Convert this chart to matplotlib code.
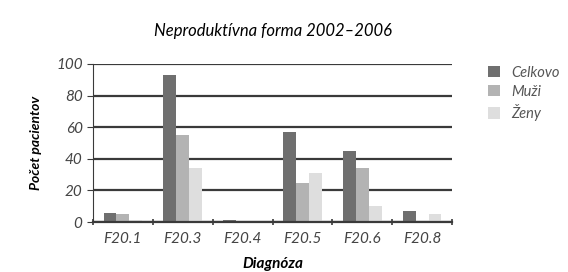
import matplotlib
matplotlib.use("Agg")
import matplotlib.pyplot as plt
import numpy as np

categories = ["F20.1", "F20.3", "F20.4", "F20.5", "F20.6", "F20.8"]
celkovo = [6, 93, 1, 57, 45, 7]
muzi = [5, 55, 0, 25, 34, 0]
zeny = [1, 34, 0, 31, 10, 5]
series_names = ["Celkovo", "Muži", "Ženy"]
colors = ["#6f6f6f", "#b3b3b3", "#dedede"]

plt.rcParams['font.family'] = ['Lato', 'DejaVu Sans']

fig = plt.figure(figsize=(5.68, 2.72), dpi=100)
ax = fig.add_axes([93/568, 1-222/272, (452-93)/568, (222-64)/272])

x = np.arange(len(categories))
w = 0.215
for i, (vals, name, c) in enumerate(zip([celkovo, muzi, zeny], series_names, colors)):
    ax.bar(x + (i-1)*w, vals, w, color=c, label=name, zorder=2)

ax.set_xlim(-0.5, len(categories)-0.5)
ax.set_ylim(0, 100)
ax.set_yticks(range(0, 101, 20))
ax.yaxis.grid(True, color="#3a3a3a", linewidth=1.6, zorder=0)
ax.set_axisbelow(True)
for s in ["top", "right"]:
    ax.spines[s].set_visible(False)
ax.spines["left"].set_color("#3a3a3a")
ax.spines["bottom"].set_color("#3a3a3a")
ax.spines["bottom"].set_linewidth(1.6)
ax.set_xticks(x)
ax.set_xticklabels(categories, style="italic", fontsize=11, color="#444444")
ax.set_xticks(np.arange(-0.5, len(categories), 1), minor=True)
ax.tick_params(axis="x", which="major", length=0, pad=7)
ax.tick_params(axis="x", which="minor", length=4, direction="inout", color="#3a3a3a", width=1.2)
ax.tick_params(axis="y", length=4, direction="out", color="#3a3a3a", labelsize=11, labelcolor="#444444")
for lbl in ax.get_yticklabels():
    lbl.set_style("italic")

ax.set_title("Neproduktívna forma 2002–2006", style="italic", fontsize=12, pad=20)
ax.set_ylabel("Počet pacientov", style="italic", fontweight="bold", fontsize=10, labelpad=10)
ax.set_xlabel("Diagnóza", style="italic", fontweight="bold", fontsize=11, labelpad=8)

leg = ax.legend(loc="upper left", bbox_to_anchor=(482/568, 1-60/272), bbox_transform=fig.transFigure,
                frameon=False, fontsize=10.5, handlelength=0.8, handleheight=0.8,
                handletextpad=0.8, labelspacing=0.35, borderaxespad=0)
for t in leg.get_texts():
    t.set_style("italic")
    t.set_color("#555555")

fig.savefig("out.png", dpi=100)
